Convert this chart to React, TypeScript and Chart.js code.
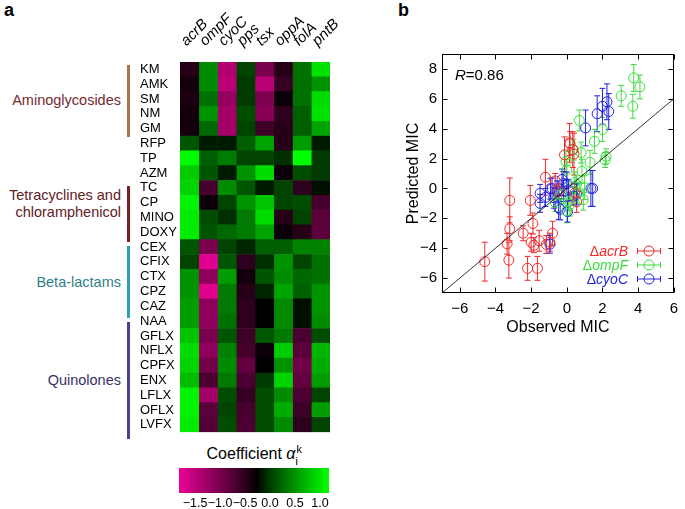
import React, { useEffect, useRef } from 'react';
import { Chart, registerables } from 'chart.js';

Chart.register(...registerables);

const FONT = '"Liberation Sans", Arial, Helvetica, sans-serif';

// ---------------- Panel a: heatmap data ----------------
const genes = ['acrB', 'ompF', 'cyoC', 'pps', 'tsx', 'oppA', 'folA', 'pntB'];
const drugs = [
  'KM', 'AMK', 'SM', 'NM', 'GM', 'RFP', 'TP', 'AZM', 'TC', 'CP', 'MINO', 'DOXY',
  'CEX', 'CFIX', 'CTX', 'CPZ', 'CAZ', 'NAA', 'GFLX', 'NFLX', 'CPFX', 'ENX', 'LFLX', 'OFLX', 'LVFX',
];
// one row per drug, columns in the order of `genes`
const coefficientRows: number[][] = [
  [-0.45, 0.45, -1.4, 0.05, -1.0, -0.45, 0.3, 1.0],
  [-0.35, 0.45, -1.45, 0.0, -1.45, -0.55, 0.3, 0.5],
  [-0.4, 0.3, -1.2, 0.0, -1.05, -0.3, 0.3, 0.95],
  [-0.35, 0.5, -1.3, 0.1, -1.1, -0.5, 0.2, 1.0],
  [-0.35, 0.25, -1.3, 0.05, -0.6, -0.45, 0.2, 0.6],
  [0.15, -0.15, -0.15, 0.2, 0.6, -0.45, 0.55, -0.15],
  [1.15, 0.2, 0.35, 0.05, 0.05, -0.05, 1.2, 0.0],
  [0.85, 0.15, -0.15, 0.5, 0.95, -0.3, 0.1, 0.0],
  [0.9, -0.65, 0.45, 0.15, -0.15, 0.05, -0.5, -0.2],
  [1.1, -0.3, 0.05, 0.5, 0.8, 0.05, 0.1, -0.65],
  [1.05, 0.1, -0.05, 0.35, 0.95, -0.45, 0.05, -0.8],
  [1.05, 0.15, 0.25, 0.35, 0.6, -0.3, -0.45, -0.8],
  [0.15, -1.0, 0.05, -0.1, 0.2, 0.2, 0.4, 0.4],
  [0.05, -1.75, 0.15, -0.5, -0.05, 0.5, 0.05, 0.3],
  [0.5, -1.15, 0.55, -0.35, 0.15, 0.45, 0.25, 0.3],
  [0.5, -1.75, 0.35, -0.45, -0.1, 0.6, 0.2, 0.5],
  [0.55, -1.15, 0.35, -0.5, -0.25, 0.45, -0.2, 0.5],
  [0.55, -1.15, 0.3, -0.5, -0.25, 0.45, -0.2, 0.45],
  [0.8, -1.0, 0.15, -0.6, 0.15, 0.35, -0.7, 0.1],
  [0.95, -1.15, 0.4, -0.65, -0.3, 0.85, -0.8, 0.7],
  [0.9, -0.95, 0.45, -0.85, -0.25, 0.5, -0.95, 0.65],
  [0.75, -0.7, 0.35, -0.7, 0.0, 0.9, -0.85, 0.55],
  [1.1, -1.3, 0.1, -0.55, 0.1, 0.45, -0.7, 0.05],
  [1.1, -0.8, 0.05, -0.65, 0.1, 0.65, -0.6, 0.55],
  [1.05, -0.75, 0.1, -0.7, 0.1, 0.45, -0.5, 0.05],
];

// colour scale
const CB_MIN = -1.82;
const CB_MID = -0.25;
const CB_MAX = 1.18;
const colorbarTicks = [-1.5, -1.0, -0.5, 0.0, 0.5, 1.0];

// ---------------- Panel b: scatter data ----------------
const acrBObserved = [-4.6, -3.35, -3.25, -3.2, -3.2, -2.45, -2.2, -2.05, -2.0, -1.9, -1.85, -1.65, -1.55, -1.2, -1.15, -0.95, -0.8, -0.65, -0.13, 0.15, 0.18, 0.33, 0.4, 0.55, 0.45, -0.45];
const acrBPredicted = [-4.9, -3.7, -4.8, -0.8, -2.7, -3.0, -5.35, -0.8, -3.6, -2.35, -3.8, -5.35, -3.5, 0.75, -3.75, -3.6, -3.0, 0.5, 2.25, 3.05, 3.0, 2.6, 2.3, -0.9, -0.3, -0.2];
const acrBError = [1.3, 0.7, 1.2, 1.5, 0.8, 0.5, 0.8, 1.0, 0.6, 0.7, 0.5, 0.8, 0.7, 1.2, 0.6, 0.6, 0.8, 0.5, 1.2, 1.3, 0.8, 1.2, 1.4, 0.7, 0.6, 0.5];

const ompFObserved = [3.75, 4.1, 3.05, 3.7, 0.7, 2.0, 1.55, 2.2, 2.15, 1.3, 0.8, -0.05, 0.85, 0.37, 0.0, 0.45, 0.55, 1.0, -0.64, 0.18, 0.92, 0.0, 0.1, -0.3, 0.6];
const ompFPredicted = [7.4, 6.8, 6.2, 5.5, 4.55, 3.95, 3.15, 2.15, 1.9, 1.75, 2.4, 1.8, 1.15, 2.6, 1.25, 0.4, 0.25, 0.05, -0.95, -1.05, -0.75, -1.5, -0.9, -0.4, -0.3];
const ompFError = [0.9, 0.8, 0.7, 0.8, 0.7, 0.8, 0.8, 0.5, 0.5, 0.8, 0.7, 0.7, 0.8, 0.7, 0.7, 0.7, 0.6, 0.8, 0.6, 0.8, 0.7, 0.8, 0.6, 0.6, 0.7];

const cyoCObserved = [2.25, 2.0, 2.35, 1.7, 1.05, 1.35, 1.45, -0.2, -0.83, -1.5, -1.5, -0.92, -0.73, -0.37, 0.04, -0.18, 0.55, 0.37, -0.95, 0.0, -0.55, -0.46, 0.09, -0.27, -1.2];
const cyoCPredicted = [5.8, 5.5, 5.15, 5.0, 4.05, 0.0, 0.0, 0.33, 0.0, -0.33, -1.0, -0.02, -0.62, -1.4, -1.55, -0.18, -0.4, -0.51, -3.73, 0.3, -0.2, -1.29, -0.1, 0.6, -0.6];
const cyoCError = [1.2, 1.2, 1.2, 1.2, 1.2, 1.2, 1.2, 0.8, 0.7, 0.6, 0.6, 0.7, 0.7, 0.7, 0.7, 0.7, 0.7, 0.6, 0.6, 0.8, 0.7, 0.8, 0.7, 0.7, 0.6];

const identityLine = [-7, 6];
const scatterXTicks = [-6, -4, -2, 0, 2, 4, 6];
const scatterYTicks = [-6, -4, -2, 0, 2, 4, 6, 8];

const RED = '#ee2a2a';
const GREEN = '#3ddc3d';
const BLUE = '#2424e0';

const strains = [
  { name: 'acrB', color: RED, x: acrBObserved, y: acrBPredicted, err: acrBError },
  { name: 'ompF', color: GREEN, x: ompFObserved, y: ompFPredicted, err: ompFError },
  { name: 'cyoC', color: BLUE, x: cyoCObserved, y: cyoCPredicted, err: cyoCError },
];

const groups = [
  { lines: ['Aminoglycosides'], from: 'KM', to: 'GM', text: '#742a2e', bar: '#a8754f' },
  { lines: ['Tetracyclines and', 'chloramphenicol'], from: 'TC', to: 'DOXY', text: '#62201f', bar: '#7b2125' },
  { lines: ['Beta-lactams'], from: 'CEX', to: 'CAZ', text: '#2f7f88', bar: '#2ba3b2' },
  { lines: ['Quinolones'], from: 'NAA', to: 'LVFX', text: '#3b3168', bar: '#4b3f8f' },
];

function coefColor(v: number): string {
  if (v <= CB_MID) {
    const t = Math.pow(Math.min(1, (CB_MID - v) / (CB_MID - CB_MIN)), 0.9);
    return `rgb(${Math.round(235 * t)},0,${Math.round(150 * t)})`;
  }
  const t = Math.pow(Math.min(1, (v - CB_MID) / (CB_MAX - CB_MID)), 0.85);
  return `rgb(0,${Math.round(255 * t)},0)`;
}

const minus = (s: string) => s.replace('-', '\u2212');

// layout constants (pixels)
const HM_TOP = 62;
const HM_BOTTOM = 440;

const errorBarPlugin = {
  id: 'errorBars',
  beforeDatasetsDraw(chart: any) {
    const { ctx } = chart;
    const xs = chart.scales.x;
    const ys = chart.scales.y;
    chart.data.datasets.forEach((ds: any) => {
      if (!ds.errors) return;
      ctx.save();
      ctx.strokeStyle = ds.borderColor;
      ctx.lineWidth = 1;
      ds.data.forEach((p: any, i: number) => {
        const e = ds.errors[i];
        const px = xs.getPixelForValue(p.x);
        const top = ys.getPixelForValue(p.y + e);
        const bot = ys.getPixelForValue(p.y - e);
        ctx.beginPath();
        ctx.moveTo(px, top);
        ctx.lineTo(px, bot);
        ctx.moveTo(px - 3, top);
        ctx.lineTo(px + 3, top);
        ctx.moveTo(px - 3, bot);
        ctx.lineTo(px + 3, bot);
        ctx.stroke();
      });
      ctx.restore();
    });
  },
};

const frameTicksPlugin = {
  id: 'frameTicks',
  afterDatasetsDraw(chart: any) {
    const { ctx, chartArea: a } = chart;
    const xs = chart.scales.x;
    const ys = chart.scales.y;
    const L = 5;
    ctx.save();
    ctx.strokeStyle = '#000';
    ctx.lineWidth = 1;
    const l = Math.round(a.left) + 0.5;
    const r = Math.round(a.right) - 0.5;
    const t = Math.round(a.top) + 0.5;
    const b = Math.round(a.bottom) - 0.5;
    ctx.strokeRect(l, t, r - l, b - t);
    ctx.beginPath();
    xs.ticks.forEach((tk: any) => {
      const px = Math.round(xs.getPixelForValue(tk.value)) + 0.5;
      ctx.moveTo(px, b);
      ctx.lineTo(px, b - L);
      ctx.moveTo(px, t);
      ctx.lineTo(px, t + L);
    });
    ys.ticks.forEach((tk: any) => {
      const py = Math.round(ys.getPixelForValue(tk.value)) + 0.5;
      ctx.moveTo(l, py);
      ctx.lineTo(l + L, py);
      ctx.moveTo(r, py);
      ctx.lineTo(r - L, py);
    });
    ctx.stroke();
    ctx.restore();
  },
};

export default function App() {
  const heatRef = useRef<HTMLCanvasElement>(null);
  const barRef = useRef<HTMLCanvasElement>(null);
  const scatRef = useRef<HTMLCanvasElement>(null);

  useEffect(() => {
    const charts: Chart[] = [];

    // ---- heatmap (stacked horizontal bars, one unit segment per cell) ----
    charts.push(
      new Chart(heatRef.current as HTMLCanvasElement, {
        type: 'bar',
        data: {
          labels: drugs,
          datasets: genes.map((g, gi) => ({
            label: g,
            data: drugs.map(() => 1),
            backgroundColor: coefficientRows.map((row) => coefColor(row[gi])),
            borderWidth: 0,
            barPercentage: 1,
            categoryPercentage: 1,
          })),
        },
        options: {
          indexAxis: 'y',
          animation: false,
          responsive: false,
          layout: { padding: { left: 0, right: 60, top: 0, bottom: 0 } },
          plugins: { legend: { display: false }, tooltip: { enabled: false } },
          scales: {
            x: {
              type: 'linear',
              position: 'top',
              stacked: true,
              min: 0,
              max: genes.length,
              afterBuildTicks: (s: any) => {
                s.ticks = genes.map((_, i) => ({ value: i + 0.5 }));
              },
              afterFit: (s: any) => {
                s.height = HM_TOP;
              },
              grid: { display: false, drawTicks: false },
              border: { display: false },
              ticks: {
                autoSkip: false,
                minRotation: 45,
                maxRotation: 45,
                padding: 12,
                labelOffset: 7,
                color: '#000',
                font: { family: FONT, size: 15, style: 'italic' },
                callback: (_v: any, i: number) => genes[i],
              },
            },
            y: {
              type: 'category',
              stacked: true,
              afterFit: (s: any) => {
                s.width = 40;
              },
              grid: { display: false, drawTicks: false },
              border: { display: false },
              ticks: {
                autoSkip: false,
                crossAlign: 'far',
                padding: 0,
                color: '#000',
                font: { family: FONT, size: 13 },
              },
            },
          },
        } as any,
      })
    );

    // ---- colour bar ----
    charts.push(
      new Chart(barRef.current as HTMLCanvasElement, {
        type: 'bar',
        data: {
          labels: [''],
          datasets: [
            {
              data: [[CB_MIN, CB_MAX]] as any,
              barPercentage: 1,
              categoryPercentage: 1,
              borderWidth: 0,
              backgroundColor: (ctx: any) => {
                const c = ctx.chart;
                const xs = c.scales.x;
                if (!c.chartArea || !xs) return '#000';
                const x0 = xs.getPixelForValue(CB_MIN);
                const x1 = xs.getPixelForValue(CB_MAX);
                const g = c.ctx.createLinearGradient(x0, 0, x1, 0);
                const n = 60;
                for (let k = 0; k <= n; k++) {
                  g.addColorStop(k / n, coefColor(CB_MIN + (k / n) * (CB_MAX - CB_MIN)));
                }
                return g;
              },
            },
          ],
        },
        options: {
          indexAxis: 'y',
          animation: false,
          responsive: false,
          layout: { padding: { left: 14, right: 16, top: 4, bottom: 0 } },
          plugins: { legend: { display: false }, tooltip: { enabled: false } },
          scales: {
            x: {
              type: 'linear',
              min: CB_MIN,
              max: CB_MAX,
              afterBuildTicks: (s: any) => {
                s.ticks = colorbarTicks.map((v) => ({ value: v }));
              },
              afterFit: (s: any) => {
                s.height = 16;
              },
              grid: { display: false, drawTicks: false },
              border: { display: false },
              ticks: {
                autoSkip: false,
                maxRotation: 0,
                padding: 3,
                color: '#000',
                font: { family: FONT, size: 12.5 },
                callback: (v: any) => minus(Number(v).toFixed(1)),
              },
            },
            y: { display: false },
          },
        } as any,
      })
    );

    // ---- scatter ----
    charts.push(
      new Chart(scatRef.current as HTMLCanvasElement, {
        type: 'scatter',
        data: {
          datasets: [
            {
              label: 'y = x',
              data: identityLine.map((v) => ({ x: v, y: v })),
              showLine: true,
              borderColor: '#000',
              borderWidth: 0.8,
              pointRadius: 0,
            } as any,
            ...strains.map((s) => ({
              label: s.name,
              data: s.x.map((x, i) => ({ x, y: s.y[i] })),
              errors: s.err,
              borderColor: s.color,
              backgroundColor: 'rgba(0,0,0,0)',
              pointRadius: 5,
              pointBorderWidth: 1,
              pointHoverRadius: 5,
            })),
          ],
        },
        options: {
          animation: false,
          responsive: false,
          layout: { padding: { left: 0, right: 5, top: 14, bottom: 0 } },
          plugins: { legend: { display: false }, tooltip: { enabled: false } },
          scales: {
            x: {
              type: 'linear',
              min: -7,
              max: 6,
              afterBuildTicks: (s: any) => {
                s.ticks = scatterXTicks.map((v) => ({ value: v }));
              },
              afterFit: (s: any) => {
                s.height = 47;
              },
              grid: { display: false, drawTicks: false },
              border: { display: false },
              ticks: {
                autoSkip: false,
                maxRotation: 0,
                padding: 7,
                color: '#000',
                font: { family: FONT, size: 15 },
                callback: (v: any) => minus(String(v)),
              },
              title: {
                display: true,
                text: 'Observed MIC',
                color: '#000',
                font: { family: FONT, size: 16 },
                padding: { top: 0, bottom: 3 },
              },
            },
            y: {
              type: 'linear',
              min: -7,
              max: 9,
              afterBuildTicks: (s: any) => {
                s.ticks = scatterYTicks.map((v) => ({ value: v }));
              },
              afterFit: (s: any) => {
                s.width = 40;
              },
              grid: { display: false, drawTicks: false },
              border: { display: false },
              ticks: {
                autoSkip: false,
                padding: 5,
                color: '#000',
                font: { family: FONT, size: 15 },
                callback: (v: any) => minus(String(v)),
              },
              title: {
                display: true,
                text: 'Predicted MIC',
                color: '#000',
                font: { family: FONT, size: 16 },
                padding: { top: 2, bottom: 0 },
              },
            },
          },
        } as any,
        plugins: [errorBarPlugin, frameTicksPlugin],
      })
    );

    return () => charts.forEach((c) => c.destroy());
  }, []);

  const rowH = (HM_BOTTOM - HM_TOP) / drugs.length;

  const abs = (extra: React.CSSProperties): React.CSSProperties => ({ position: 'absolute', ...extra });

  return (
    <div
      style={{
        position: 'absolute',
        left: 0,
        top: 0,
        width: 685,
        height: 509,
        overflow: 'hidden',
        background: '#fff',
        fontFamily: FONT,
        color: '#000',
      }}
    >
      <div style={abs({ left: 4, top: 0, fontSize: 18, fontWeight: 'bold', lineHeight: '20px' })}>a</div>
      <div style={abs({ left: 398, top: 0, fontSize: 18, fontWeight: 'bold', lineHeight: '20px' })}>b</div>

      {groups.map((g) => {
        const i0 = drugs.indexOf(g.from);
        const i1 = drugs.indexOf(g.to);
        const top = HM_TOP + i0 * rowH + 3;
        const bottom = HM_TOP + (i1 + 1) * rowH - 1;
        const center = (top + bottom) / 2 - (g.lines.length > 1 ? 10 : 0);
        return (
          <React.Fragment key={g.lines[0]}>
            <div style={abs({ left: 127, top, width: 3, height: bottom - top, background: g.bar })} />
            <div
              style={abs({
                right: 685 - 121,
                top: center - (g.lines.length * 17) / 2,
                textAlign: 'right',
                fontSize: 14.5,
                lineHeight: '17px',
                color: g.text,
                whiteSpace: 'nowrap',
              })}
            >
              {g.lines.map((l) => (
                <div key={l}>{l}</div>
              ))}
            </div>
          </React.Fragment>
        );
      })}

      <canvas ref={heatRef} width={250} height={440} style={abs({ left: 140, top: 0, width: 250, height: 440 })} />

      <div style={abs({ left: 150, width: 210, top: 444, textAlign: 'center', fontSize: 16, lineHeight: '20px', whiteSpace: 'nowrap' })}>
        Coefficient <span style={{ fontStyle: 'italic' }}>α</span>
        <span style={{ position: 'relative', display: 'inline-block', width: 8, height: 10 }}>
          <span style={{ position: 'absolute', left: 0, top: 2, fontSize: 11 }}>i</span>
          <span style={{ position: 'absolute', left: 1, top: -10, fontSize: 11 }}>k</span>
        </span>
      </div>

      <canvas ref={barRef} width={180} height={45} style={abs({ left: 165, top: 464, width: 180, height: 45 })} />

      <canvas ref={scatRef} width={283} height={300} style={abs({ left: 402, top: 40, width: 283, height: 300 })} />

      <div style={abs({ left: 455, top: 66, fontSize: 15, lineHeight: '18px' })}>
        <i>R</i>=0.86
      </div>

      {strains.map((s, i) => (
        <React.Fragment key={s.name}>
          <div
            style={abs({
              left: 560,
              width: 68,
              top: 243 + i * 14,
              textAlign: 'right',
              fontSize: 14,
              lineHeight: '16px',
              color: s.color,
              whiteSpace: 'nowrap',
            })}
          >
            Δ<i>{s.name}</i>
          </div>
          <svg width={26} height={14} style={abs({ left: 636, top: 244 + i * 14 })}>
            <line x1={1} y1={7} x2={25} y2={7} stroke={s.color} strokeWidth={1} />
            <line x1={1.5} y1={4} x2={1.5} y2={10} stroke={s.color} strokeWidth={1} />
            <line x1={24.5} y1={4} x2={24.5} y2={10} stroke={s.color} strokeWidth={1} />
            <circle cx={13} cy={7} r={5} fill="none" stroke={s.color} strokeWidth={1} />
          </svg>
        </React.Fragment>
      ))}
    </div>
  );
}
